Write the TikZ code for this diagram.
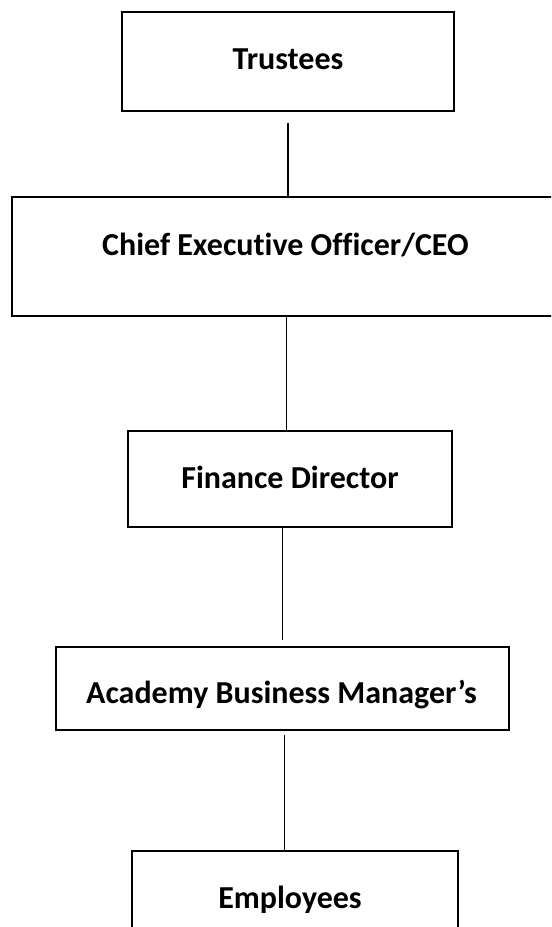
\documentclass[tikz,border=0pt]{standalone}
\usepackage{fontspec}
\setmainfont[Ligatures=NoCommon]{Carlito}
\usetikzlibrary{fit}
\begin{document}
\begin{tikzpicture}[x=0.75pt,y={(0pt,-0.75pt)},
  box/.style={draw,line width=1.1pt,inner sep=0pt},
  lbl/.style={anchor=base,font=\fontsize{24}{28}\selectfont\bfseries,inner sep=0pt},
  link/.style={line width=0.95pt}]
\useasboundingbox (0,0) rectangle (551,927);
\clip (0,0) rectangle (551,927);
% boxes
\node[box,fit={(122,12)(454,111)}] (trustees) {};
\node[box,fit={(12,197)(560,316)}] (ceo) {};
\node[box,fit={(128,431)(452,527)}] (fin) {};
\node[box,fit={(56,647)(509,730)}] (abm) {};
\node[box,fit={(132,851)(458,960)}] (emp) {};
% labels
\node[lbl] (trusteesT) at (288,70) {Trustees};
\node[lbl] (ceoT) at (285.5,255) {Chief Executive Officer/CEO};
\node[lbl] (finT) at (290,488) {Finance Director};
\node[lbl] (abmT) at (281.5,703) {Academy Business Manager’s};
\node[lbl] (empT) at (290,908) {Employees};
% connectors
\coordinate (c1) at (288,123);
\coordinate (c2) at (286.5,0);
\coordinate (c3) at (282.5,640);
\coordinate (c4) at (284.3,735);
\draw[link] (c1) -- (c1 |- ceo.north);
\draw[link] (ceo.south -| c2) -- (fin.north -| c2);
\draw[link] (fin.south -| c3) -- (c3);
\draw[link] (c4) -- (c4 |- emp.north);
\end{tikzpicture}
\end{document}
